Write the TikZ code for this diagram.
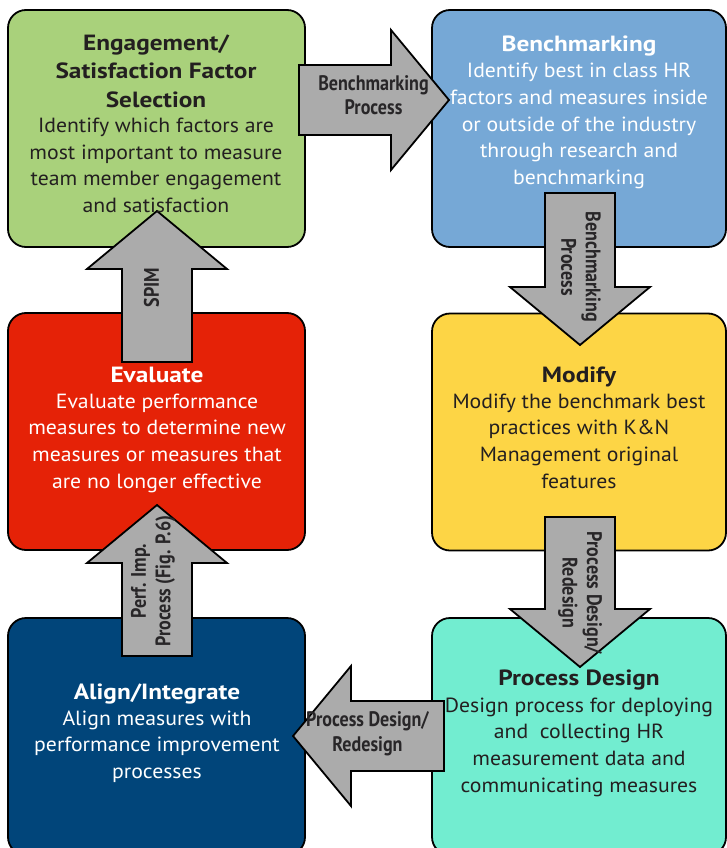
\documentclass[tikz,border=0pt]{standalone}
\usepackage{fontspec}
\setmainfont{PT Sans}[FakeStretch=1.06]
\newfontfamily\headsans[FakeStretch=1.15]{PT Sans}
\newfontfamily\narrowsans[FakeStretch=0.86]{PT Sans}
\usetikzlibrary{calc}

\definecolor{boxgreen}{RGB}{169,209,123}
\definecolor{boxblue}{RGB}{118,168,214}
\definecolor{boxred}{RGB}{229,34,7}
\definecolor{boxyellow}{RGB}{253,213,69}
\definecolor{boxnavy}{RGB}{1,69,122}
\definecolor{boxteal}{RGB}{114,237,208}
\definecolor{arrowgray}{RGB}{171,171,171}
\definecolor{inkdark}{RGB}{35,31,32}
\definecolor{labelink}{RGB}{40,38,40}

\tikzset{
  stage/.style={draw=black, line width=1.8pt, rounded corners=18pt, inner sep=0pt, minimum height=237pt},
  leftstage/.style={stage, minimum width=297pt},
  rightstage/.style={stage, minimum width=294pt},
  heading/.style={font={\headsans\bfseries\fontsize{22}{28.5}\selectfont}, align=center, inner sep=0pt},
  body/.style={font=\fontsize{20.5}{26.7}\selectfont, align=center, inner sep=0pt},
  flowarrow/.style={draw=black, line width=1.8pt, fill=arrowgray, line join=miter},
  arrowlabel/.style={font={\narrowsans\bfseries\fontsize{21}{24.5}\selectfont}, text=labelink, align=center, inner sep=0pt},
}

% block arrow from a tail point to a tip point
\newcommand\drawblockarrow[2]{%
  \coordinate (hb) at ($(#2)!58pt!(#1)$);
  \draw[flowarrow] ($(#1)!35pt!90:(#2)$) -- ($(hb)!35pt!-90:(#1)$) -- ($(hb)!70pt!-90:(#1)$)
    -- (#2) -- ($(hb)!70pt!90:(#1)$) -- ($(hb)!35pt!90:(#1)$) -- ($(#1)!35pt!-90:(#2)$) -- cycle;}

\begin{document}
\begin{tikzpicture}[x=1pt, y=-1pt]
\useasboundingbox (0,0) rectangle (727,848);
\clip (0,0) rectangle (727,848);

% stages
\node[leftstage, fill=boxgreen] (select) at (156.5,128.5) {};
\node[rightstage, fill=boxblue] (bench) at (579,128.5) {};
\node[leftstage, fill=boxred] (eval) at (156.5,431.5) {};
\node[rightstage, fill=boxyellow] (modify) at (579,432) {};
\node[leftstage, fill=boxnavy] (align) at (156.5,736.5) {};
\node[rightstage, fill=boxteal] (design) at (579,736.5) {};

% arrow end points
\coordinate (a1tail) at (299,100);  \coordinate (a1tip) at (449,100);
\coordinate (a2tail) at (580,193);  \coordinate (a2tip) at (580,345);
\coordinate (a3tail) at (580,517);  \coordinate (a3tip) at (580,667);
\coordinate (a4tail) at (444,736);  \coordinate (a4tip) at (293,736);
\coordinate (a5tail) at (157,362);  \coordinate (a5tip) at (157,211);
\coordinate (a6tail) at (157,656);  \coordinate (a6tip) at (157,505);

\drawblockarrow{a1tail}{a1tip}
\drawblockarrow{a2tail}{a2tip}
\drawblockarrow{a3tail}{a3tip}
\drawblockarrow{a4tail}{a4tip}
\drawblockarrow{a5tail}{a5tip}
\drawblockarrow{a6tail}{a6tip}

% arrow labels
\node[arrowlabel] (lab1) at (373.5,95) {Benchmarking\\Process};
\node[arrowlabel, rotate=-90] (lab2) at (581,267) {Benchmarking\\Process};
\node[arrowlabel, rotate=-90] (lab3) at (580,593) {Process Design/\\Redesign};
\node[arrowlabel] (lab4) at (367.5,733.5) {Process Design/\\Redesign};
\node[arrowlabel, rotate=90] (lab5) at (151.5,287.5) {SPIM};
\node[arrowlabel, rotate=90] (lab6) at (153,581) {Perf. Imp.\\Process (Fig. P.6)};

% stage texts
\node[heading, text=inkdark] (selecthead) at (156,71) {Engagement/\\Satisfaction Factor\\Selection};
\node[body, text=inkdark] (selectbody) at (156,165.5) {Identify which factors are\\most important to measure\\team member engagement\\and satisfaction};

\node[heading, text=white, anchor=base] (benchhead) at (579,52) {Benchmarking};
\node[body, text=white] (benchbody) at (579,126) {Identify best in class HR\\factors and measures inside\\or outside of the industry\\through research and\\benchmarking};

\node[heading, text=white, anchor=base] (evalhead) at (157,382) {Evaluate};
\node[body, text=white] (evalbody) at (157,443) {Evaluate performance\\measures to determine new\\measures or measures that\\are no longer effective};

\node[heading, text=inkdark, anchor=base] (modifyhead) at (579,382) {Modify};
\node[body, text=inkdark] (modifybody) at (579,441) {Modify the benchmark best\\practices with K\&N\\Management original\\features};

\node[heading, text=white, anchor=base] (alignhead) at (157,699) {Align/Integrate};
\node[body, text=white] (alignbody) at (157,746.5) {Align measures with\\performance improvement\\processes};

\node[heading, text=inkdark, anchor=base] (designhead) at (579,685) {Process Design};
\node[body, text=inkdark] (designbody) at (579,747) {Design process for deploying\\and \ collecting HR\\measurement data and\\communicating measures};
\end{tikzpicture}
\end{document}
